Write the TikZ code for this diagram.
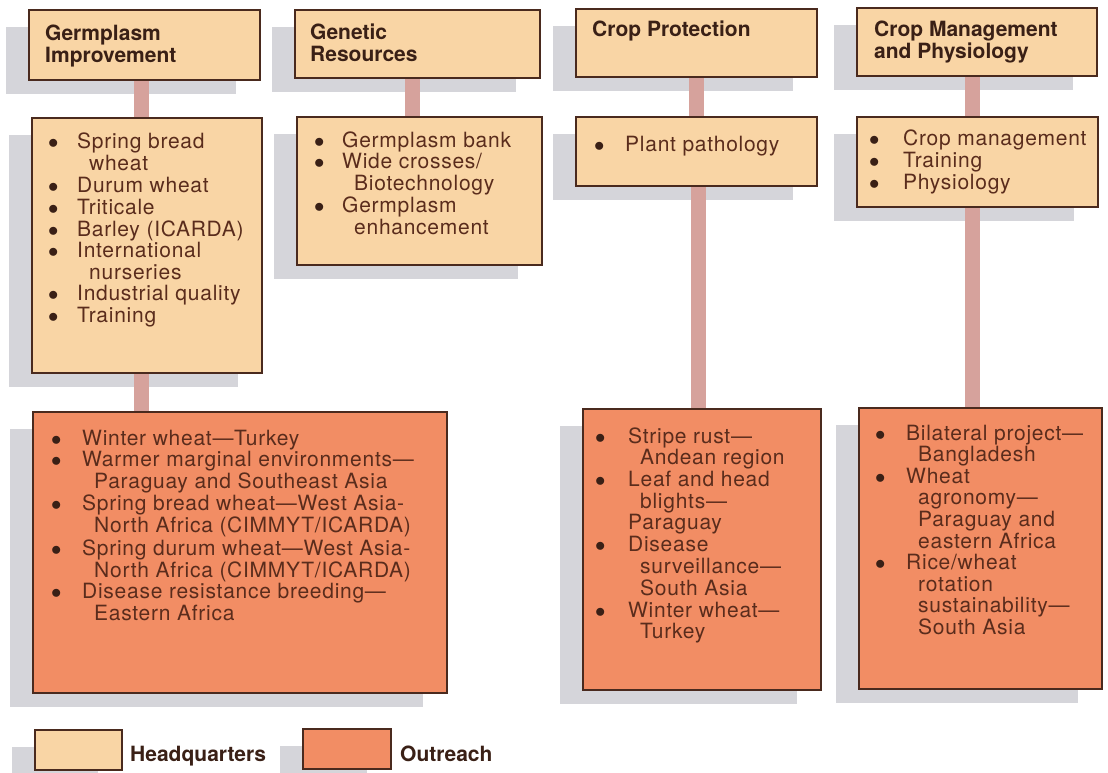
\documentclass[tikz,border=0pt]{standalone}
\usepackage{fontspec}
\setmainfont{TeX Gyre Heros}
\newfontfamily\bodyfont[LetterSpace=3.5]{TeX Gyre Heros}
\usetikzlibrary{backgrounds}
\definecolor{hqfill}{HTML}{F9D5A5}
\definecolor{orfill}{HTML}{F28D64}
\definecolor{edgec}{HTML}{4A2A1E}
\definecolor{shadowc}{HTML}{D5D5DA}
\definecolor{barc}{HTML}{D6A29C}
\definecolor{bodyc}{HTML}{5A2C1C}
\definecolor{headc}{HTML}{3A2016}
\newcommand\dotmark{\textcolor{headc}{$\bullet$}}
\newcommand\bul[1]{\dotmark & #1\\}
\newcommand\cnt[1]{& \hspace*{12pt}#1\\}
\newcommand\flh[1]{& #1\\}
\tikzset{
  boxbase/.style={draw=edgec, line width=1.3pt, rectangle, inner sep=0pt, outer sep=0pt, anchor=north west},
  hqbox/.style={boxbase, fill=hqfill},
  orbox/.style={boxbase, fill=orfill},
  headtext/.style={anchor=base west, inner sep=0pt, text=headc, font=\fontsize{21}{20.5}\selectfont\bfseries},
  listtext/.style={anchor=base west, inner sep=0pt, text=bodyc, font=\bodyfont\fontsize{21}{21.3}\selectfont},
  legtext/.style={anchor=base west, inner sep=0pt, text=headc, font=\fontsize{21}{21}\selectfont\bfseries},
  conn/.style={draw=barc, line width=15pt},
  shadebox/.style={fill=shadowc},
}
\begin{document}
\begin{tikzpicture}[x=1pt,y=1pt]
\useasboundingbox (0,0) rectangle (1108,-773);

% boxes
\node[hqbox, minimum width=231pt, minimum height=70pt] (g1) at (29,-10) {};
\node[hqbox, minimum width=230pt, minimum height=255pt] (q1) at (32,-118) {};
\node[orbox, minimum width=414pt, minimum height=281pt] (o1) at (33,-412) {};
\node[hqbox, minimum width=245pt, minimum height=68pt] (g2) at (295,-10) {};
\node[hqbox, minimum width=245pt, minimum height=148pt] (q2) at (297,-117) {};
\node[hqbox, minimum width=241pt, minimum height=68pt] (g3) at (576,-9) {};
\node[hqbox, minimum width=241pt, minimum height=69pt] (q3) at (576,-117) {};
\node[orbox, minimum width=238pt, minimum height=281pt] (o3) at (583,-409) {};
\node[hqbox, minimum width=240pt, minimum height=68pt] (g4) at (857,-8) {};
\node[hqbox, minimum width=241pt, minimum height=90pt] (q4) at (857,-117) {};
\node[orbox, minimum width=243pt, minimum height=281pt] (o4) at (859,-408) {};
\node[hqbox, minimum width=87pt, minimum height=40pt] (lh) at (35,-730) {};
\node[orbox, minimum width=88pt, minimum height=40pt] (lo) at (303,-729) {};

\begin{scope}[on background layer]
  \fill[white] (0,0) rectangle (1108,-773);
  \foreach \b in {g1,q1,o1,g2,q2,g3,q3,o3,g4,q4,o4,lh,lo}{
    \fill[shadebox] ([shift={(-23,-17)}]\b.north west) rectangle ([shift={(-24,-14)}]\b.south east);
  }
  \draw[conn] ([xshift=-3pt]g1.south) -- ([xshift=-3pt]g1.south |- q1.north);
  \draw[conn] ([xshift=-3pt]g1.south |- q1.south) -- ([xshift=-3pt]g1.south |- o1.north);
  \draw[conn] ([xshift=-5pt]g2.south) -- ([xshift=-5pt]g2.south |- q2.north);
  \draw[conn] (g3.south) -- (g3.south |- q3.north);
  \draw[conn] ([xshift=2pt]q3.south) -- ([xshift=2pt]q3.south |- o3.north);
  \draw[conn] ([xshift=-5pt]g4.south) -- ([xshift=-5pt]g4.south |- q4.north);
  \draw[conn] ([xshift=-5pt]q4.south) -- ([xshift=-5pt]q4.south |- o4.north);
\end{scope}

% headers
\node[headtext] (tg1) at ([shift={(16,-31)}]g1.north west) {\begin{tabular}[t]{@{}l@{}}Germplasm\\Improvement\end{tabular}};
\node[headtext] (tg2) at ([shift={(15,-30)}]g2.north west) {\begin{tabular}[t]{@{}l@{}}Genetic\\Resources\end{tabular}};
\node[headtext] (tg3) at ([shift={(16,-28)}]g3.north west) {Crop Protection};
\node[headtext] (tg4) at ([shift={(17,-29)}]g4.north west) {\begin{tabular}[t]{@{}l@{}}Crop Management\\and Physiology\end{tabular}};

% lists
\node[listtext] (tq1) at ([shift={(16,-31)}]q1.north west) {\begin{tabular}[t]{@{}p{29pt}@{}l@{}}
\bul{Spring bread}\cnt{wheat}\bul{Durum wheat}\bul{Triticale}\bul{Barley (ICARDA)}\bul{International}\cnt{nurseries}\bul{Industrial quality}\bul{Training}
\end{tabular}};
\node[listtext] (tq2) at ([shift={(17,-30)}]q2.north west) {\begin{tabular}[t]{@{}p{28pt}@{}l@{}}
\bul{Germplasm bank}\bul{Wide crosses/}\cnt{Biotechnology}\bul{Germplasm}\cnt{enhancement}
\end{tabular}};
\node[listtext] (tq3) at ([shift={(18,-35)}]q3.north west) {\begin{tabular}[t]{@{}p{31pt}@{}l@{}}
\bul{Plant pathology}
\end{tabular}};
\node[listtext] (tq4) at ([shift={(12,-29)}]q4.north west) {\begin{tabular}[t]{@{}p{34pt}@{}l@{}}
\bul{Crop management}\bul{Training}\bul{Physiology}
\end{tabular}};
\node[listtext] (to1) at ([shift={(18,-33)}]o1.north west) {\begin{tabular}[t]{@{}p{31pt}@{}l@{}}
\bul{Winter wheat—Turkey}\bul{Warmer marginal environments—}\cnt{Paraguay and Southeast Asia}\bul{Spring bread wheat—West Asia-}\cnt{North Africa (CIMMYT/ICARDA)}\bul{Spring durum wheat—West Asia-}\cnt{North Africa (CIMMYT/ICARDA)}\bul{Disease resistance breeding—}\cnt{Eastern Africa}
\end{tabular}};
\node[listtext] (to3) at ([shift={(12,-34)}]o3.north west) {\begin{tabular}[t]{@{}p{33pt}@{}l@{}}
\bul{Stripe rust—}\cnt{Andean region}\bul{Leaf and head}\cnt{blights—}\flh{Paraguay}\bul{Disease}\cnt{surveillance—}\cnt{South Asia}\bul{Winter wheat—}\cnt{Turkey}
\end{tabular}};
\node[listtext] (to4) at ([shift={(16,-32)}]o4.north west) {\begin{tabular}[t]{@{}p{31pt}@{}l@{}}
\bul{Bilateral project—}\cnt{Bangladesh}\bul{Wheat}\cnt{agronomy—}\cnt{Paraguay and}\cnt{eastern Africa}\bul{Rice/wheat}\cnt{rotation}\cnt{sustainability—}\cnt{South Asia}
\end{tabular}};

% legend
\node[legtext] (tlh) at (130,-761) {Headquarters};
\node[legtext] (tlo) at (400,-761) {Outreach};
\end{tikzpicture}
\end{document}
